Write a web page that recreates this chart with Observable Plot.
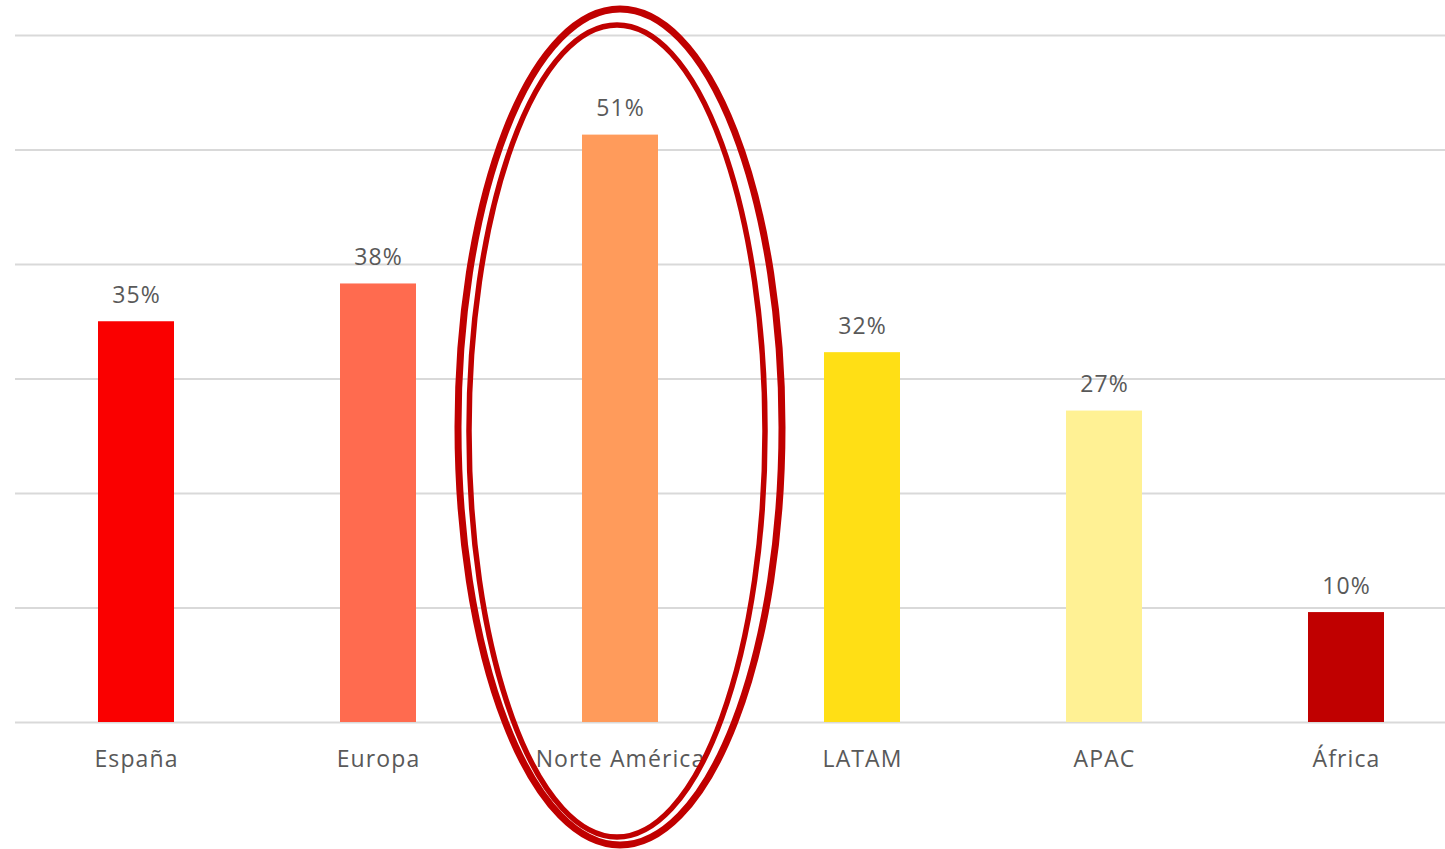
<!DOCTYPE html>
<html>
<head>
<meta charset="utf-8">
<script src="https://cdn.jsdelivr.net/npm/d3@7"></script>
<script src="https://cdn.jsdelivr.net/npm/@observablehq/plot@0.6"></script>
<style>
  html, body { margin: 0; padding: 0; background: #fff; }
  #chart { width: 1445px; height: 849px; }
  #chart text { letter-spacing: 1.1px; }
</style>
</head>
<body>
<div id="chart"></div>
<script>
const categories = ["España", "Europa", "Norte América", "LATAM", "APAC", "África"];
const values = [35.0, 38.3, 51.3, 32.3, 27.2, 9.6];
const labels = ["35%", "38%", "51%", "32%", "27%", "10%"];
const colors = ["#FA0000", "#FF6B4F", "#FF9B5B", "#FFDF15", "#FFF194", "#C00000"];
const gridTicks = [0, 10, 20, 30, 40, 50, 60];
const highlighted = "Norte América";

const data = categories.map((c, i) => ({cat: c, value: values[i], label: labels[i], color: colors[i]}));

const FONT = "'Open Sans', sans-serif";
const TEXT = "#595959";

function ellipseMark(index, scales, values, dims) {
  const g = d3.create("svg:g");
  const cx = scales.x(highlighted) + scales.x.bandwidth() / 2;
  const rings = [
    {dx: 0, cy: 427, rx: 162, ry: 418, w: 7},
    {dx: -3, cy: 431, rx: 148, ry: 406, w: 5.5}
  ];
  for (const r of rings) {
    g.append("ellipse")
      .attr("cx", cx + r.dx).attr("cy", r.cy)
      .attr("rx", r.rx).attr("ry", r.ry)
      .attr("fill", "none").attr("stroke", "#C00000")
      .attr("stroke-width", r.w);
  }
  return g.node();
}

const chart = Plot.plot({
  width: 1445,
  height: 849,
  marginLeft: 15,
  marginRight: 0,
  marginTop: 35,
  marginBottom: 127,
  style: {fontFamily: FONT, background: "#fff", overflow: "visible"},
  x: {domain: categories, range: [14, 1467], paddingInner: 0.686, paddingOuter: 0.343, align: 0.5, label: null},
  y: {domain: [0, 60], label: null, axis: null},
  marks: [
    Plot.ruleY(gridTicks, {stroke: "#D9D9D9", strokeWidth: 2}),
    Plot.barY(data, {x: "cat", y: "value", fill: "color"}),
    Plot.text(data, {x: "cat", y: "value", text: "label", dy: -26, fontSize: 23, fill: TEXT, fontWeight: 400}),
    Plot.axisX({tickSize: 0, tickPadding: 28, fontSize: 23, color: TEXT, fill: TEXT, fontWeight: 400, label: null}),
    ellipseMark
  ]
});
document.getElementById("chart").appendChild(chart);
</script>
</body>
</html>
